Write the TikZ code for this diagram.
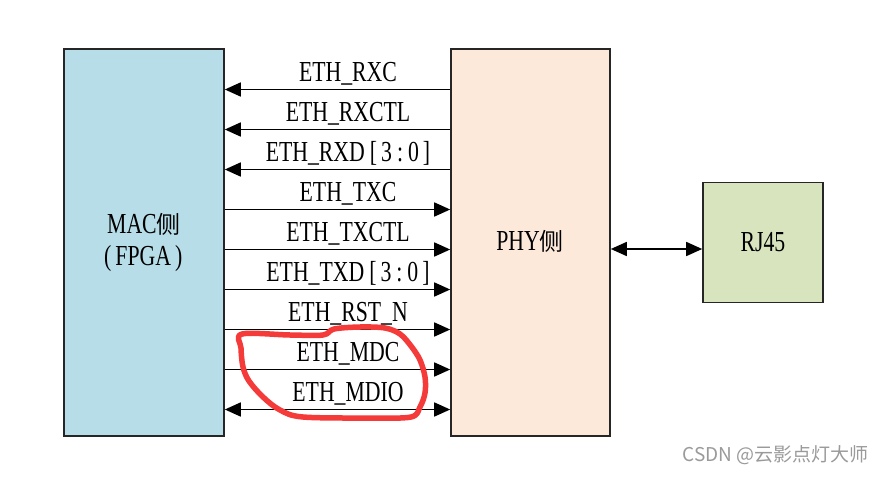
\documentclass[tikz,border=0pt]{standalone}
\usepackage{fontspec}
\setmainfont{Liberation Serif}
\newfontfamily\lbl[FakeStretch=0.75]{Liberation Serif}
\newfontfamily\cjk{Noto Sans CJK SC}
\usetikzlibrary{arrows.meta}
\definecolor{macblue}{HTML}{B7DDE8}
\definecolor{phypeach}{HTML}{FCE9DA}
\definecolor{rjgreen}{HTML}{D7E4BD}
\definecolor{loopred}{HTML}{F53A3A}
\definecolor{wmgray}{HTML}{9A9A9A}
\tikzset{
  box/.style={draw=black!85, line width=1.6pt, inner sep=0pt},
  sig/.style={line width=1.6pt, -{Triangle[length=16pt,width=14pt]}},
  bisig/.style={line width=1.6pt, {Triangle[length=16pt,width=14pt]}-{Triangle[length=16pt,width=14pt]}},
  sigtext/.style={font=\lbl\fontsize{29}{30}\selectfont, inner sep=0pt, anchor=base},
  boxtext/.style={font=\lbl\fontsize{29}{32}\selectfont, inner sep=0pt, align=center}
}
\newcommand{\ce}{{\cjk\fontsize{24}{30}\selectfont 侧}}
\newcommand{\bits}{\kern5pt[\kern4pt3\kern5pt:\kern5pt0\kern4pt]}
\begin{document}
\begin{tikzpicture}[x=1pt,y=-1pt]
\useasboundingbox[fill=white] (0,0) rectangle (885,476);
\node[box, fill=macblue, minimum width=160pt, minimum height=387pt] (mac) at (144,242.5) {};
\node[box, fill=phypeach, minimum width=159pt, minimum height=387pt] (phy) at (530.5,242.5) {};
\node[box, fill=rjgreen, minimum width=120pt, minimum height=120pt] (rj) at (763,242.5) {};
\node[boxtext, anchor=base west] (mact) at (107,233) {MAC\ce};
\node[boxtext, anchor=base west] (macf) at (104,265) {(\kern4pt FPGA\kern4pt)};
\node[boxtext, anchor=base] (phyt) at (530,250) {PHY\ce};
\node[boxtext, anchor=base] (rjt) at (763,251) {RJ45};
% receive signals (PHY -> MAC)
\foreach \y/\t [count=\i] in {89.5/ETH\_RXC, 129.5/ETH\_RXCTL, 169.5/{ETH\_RXD\bits}}{
  \coordinate (m\i) at (mac.east |- 0,\y);
  \coordinate (p\i) at (phy.west |- 0,\y);
  \draw[sig] (p\i) -- (m\i);
  \node[sigtext] (l\i) at (348,\y-8) {\t};
}
% transmit signals (MAC -> PHY)
\foreach \y/\t [count=\i from 4] in {209.5/ETH\_TXC, 249.5/ETH\_TXCTL, 289.5/{ETH\_TXD\bits}, 329.5/ETH\_RST\_N, 369.5/ETH\_MDC}{
  \coordinate (m\i) at (mac.east |- 0,\y);
  \coordinate (p\i) at (phy.west |- 0,\y);
  \draw[sig] (m\i) -- (p\i);
  \node[sigtext] (l\i) at (348,\y-8) {\t};
}
\coordinate (m9) at (mac.east |- 0,409.5);
\coordinate (p9) at (phy.west |- 0,409.5);
\draw[bisig] (m9) -- (p9);
\node[sigtext] (l9) at (348,401.5) {ETH\_MDIO};
% PHY <-> RJ45
\coordinate (pr) at (phy.east |- 0,249);
\coordinate (rr) at (rj.west |- 0,249);
\draw[bisig] (pr) -- (rr);
% red hand-drawn loop
\draw[loopred, line width=5.5pt, line join=round] plot[smooth cycle, tension=0.55] coordinates {
 (242,334) (290,335) (323,335) (334,329) (360,327) (385,328) (400,334) (411,346) (420,360) (425,377)
 (425,393) (420,407) (411,417) (370,418) (303,417) (280,410) (263,397) (249,381) (243,367) (241,348)};
% watermark
\node[font=\cjk\fontsize{19}{20}\selectfont, text=wmgray, anchor=east, inner sep=0pt] (wm) at (869,455) {CSDN @云影点灯大师};
\end{tikzpicture}
\end{document}
